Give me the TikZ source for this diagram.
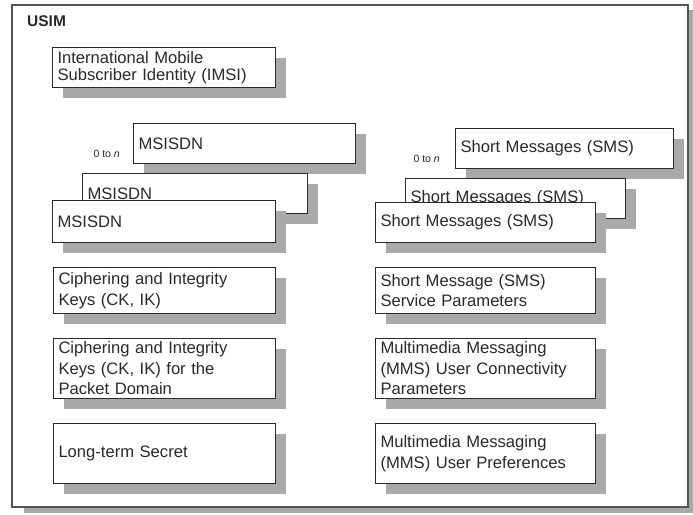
\documentclass[tikz,border=0pt]{standalone}
\usepackage{fontspec}
\setmainfont{Liberation Sans}
\usetikzlibrary{shadows,calc}
\definecolor{shd}{HTML}{A9A9A9}
\definecolor{ink}{HTML}{2A2A2A}
\tikzset{
  bx/.style={draw=ink, line width=1pt, fill=white, anchor=north west, align=left,
    inner xsep=5pt, inner ysep=0pt, text=ink,
    font=\fontsize{16.6}{20.5}\selectfont,
    drop shadow={shadow xshift=10pt, shadow yshift=-10pt, fill=shd, opacity=1}},
  cnt/.style={font=\fontsize{10.5}{12}\selectfont, text=ink, anchor=east, inner sep=0pt},
}
\begin{document}
\begin{tikzpicture}[x=1pt,y=-1pt]
\useasboundingbox (0,0) rectangle (693,514);
% outer frame
\fill[shd] (24,10) rectangle (693,513);
\draw[draw=ink!80, line width=1.2pt, fill=white] (12,5) rectangle (688,507);
\node[font=\bfseries\fontsize{15.5}{18}\selectfont, text=ink, anchor=west, inner sep=0pt] (usim) at (27,21) {USIM};

% left column
\node[bx, text width=213pt, minimum height=40pt, font=\fontsize{16.6}{16.5}\selectfont] (imsi) at (52,47) {International Mobile\\Subscriber Identity (IMSI)};

\node[bx, text width=212pt, minimum height=40pt] (ms1) at (133,123) {MSISDN};
\node[bx, text width=215pt, minimum height=40pt] (ms2) at (82,173) {MSISDN};
\node[bx, text width=213pt, minimum height=42pt] (ms3) at (52,200) {MSISDN};
\node[cnt] (n1) at ($(ms1.west)+(-13,10)$) {0 to \textit{n}};

\node[bx, text width=212pt, minimum height=46pt] (ck) at (53,267) {Ciphering and Integrity\\Keys (CK, IK)};
\node[bx, text width=212pt, minimum height=60pt] (ckp) at (53,338) {Ciphering and Integrity\\Keys (CK, IK) for the\\Packet Domain};
\node[bx, text width=212pt, minimum height=60pt] (lts) at (53,423) {Long-term Secret};

% right column
\node[bx, text width=208pt, minimum height=40pt] (sm1) at (455,128) {Short Messages (SMS)};
\node[bx, text width=210pt, minimum height=40pt] (sm2) at (405,178) {Short Messages (SMS)};
\node[bx, text width=210pt, minimum height=40pt] (sm3) at (375,202) {Short Messages (SMS)};
\node[cnt] (n2) at ($(sm1.west)+(-15,10)$) {0 to \textit{n}};

\node[bx, text width=210pt, minimum height=46pt] (ssp) at (375,267) {Short Message (SMS)\\Service Parameters};
\node[bx, text width=210pt, minimum height=60pt] (mmc) at (375,338) {Multimedia Messaging\\(MMS) User Connectivity\\Parameters};
\node[bx, text width=210pt, minimum height=60pt] (mmp) at (375,423) {Multimedia Messaging\\(MMS) User Preferences};
\end{tikzpicture}
\end{document}
